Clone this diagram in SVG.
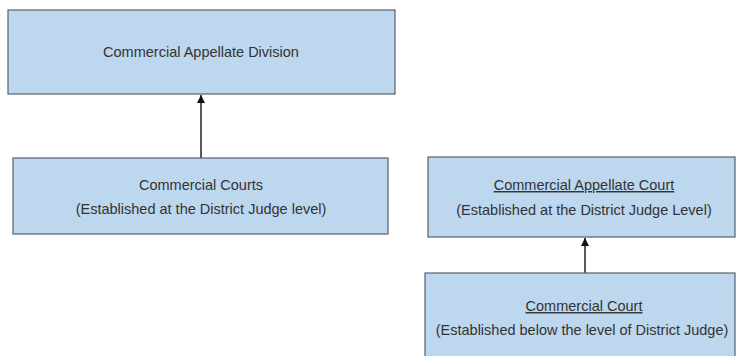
<svg xmlns="http://www.w3.org/2000/svg" width="736" height="356" viewBox="0 0 736 356">
<defs>
<style>
.box{fill:#bdd7ee;stroke:#56606c;stroke-width:1.2}
.t{font-family:"Liberation Sans",Arial,sans-serif;font-size:14.5px;fill:#333;text-anchor:middle}
.u{text-decoration:underline}
.c{stroke:#222;stroke-width:1.5;fill:none}
</style>
<marker id="ah" viewBox="0 0 10 10" refX="10" refY="5" markerWidth="8" markerHeight="8" markerUnits="userSpaceOnUse" orient="auto">
<path d="M0,0 L10,5 L0,10 z" fill="#111"/>
</marker>
</defs>
<rect width="736" height="356" fill="#fff"/>
<g id="connectors">
<line class="c" x1="201" y1="158" x2="201" y2="95" marker-end="url(#ah)"/>
<line class="c" x1="585" y1="273" x2="585" y2="238" marker-end="url(#ah)"/>
</g>
<g id="appellate-division">
<rect class="box" x="8" y="10" width="387" height="84"/>
<text class="t" x="201" y="57">Commercial Appellate Division</text>
</g>
<g id="commercial-courts">
<rect class="box" x="13" y="158" width="375" height="76"/>
<text class="t" x="201" y="190">Commercial Courts</text>
<text class="t" x="201" y="214">(Established at the District Judge level)</text>
</g>
<g id="appellate-court">
<rect class="box" x="428" y="157" width="307" height="80"/>
<text class="t u" x="584" y="190">Commercial Appellate Court</text>
<text class="t" x="584" y="215">(Established at the District Judge Level)</text>
</g>
<g id="commercial-court">
<rect class="box" x="425" y="273" width="310" height="90"/>
<text class="t u" x="584" y="311">Commercial Court</text>
<text class="t" x="582" y="335">(Established below the level of District Judge)</text>
</g>
</svg>
